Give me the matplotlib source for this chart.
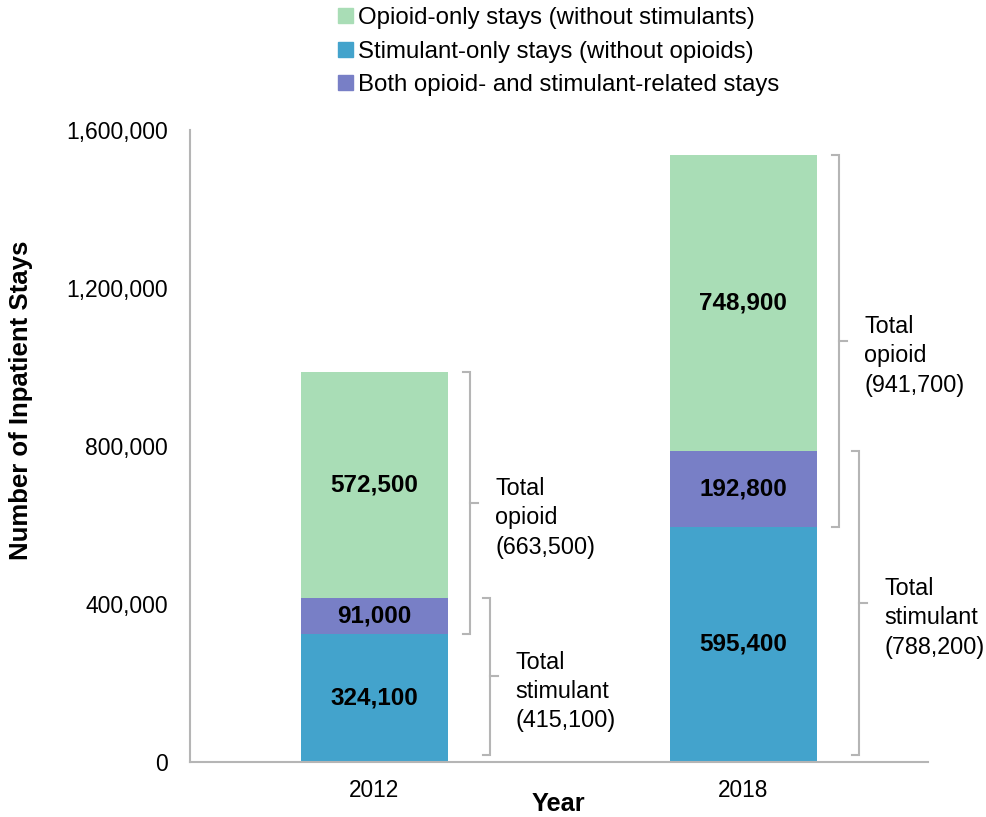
import matplotlib
matplotlib.use("Agg")
import matplotlib.pyplot as plt
from matplotlib.ticker import FuncFormatter
from matplotlib.patches import Patch

plt.rcParams['font.family'] = ['Liberation Sans', 'DejaVu Sans']

years = ["2012", "2018"]
stimulant_only = [324100, 595400]
both = [91000, 192800]
opioid_only = [572500, 748900]
total_opioid = [663500, 941700]
total_stimulant = [415100, 788200]
legend_labels = ["Opioid-only stays (without stimulants)",
                 "Stimulant-only stays (without opioids)",
                 "Both opioid- and stimulant-related stays"]
yticks = [0, 400000, 800000, 1200000, 1600000]

c_green = "#A9DDB6"
c_blue = "#43A3CC"
c_purple = "#787FC6"
c_gray = "#B5B5B5"

fig = plt.figure(figsize=(9.87, 8.17), dpi=100)
ax = fig.add_axes([0.1925, 0.0673, 0.7475, 0.7737])

x = list(range(len(years)))
w = 0.4
bottoms2 = [s for s in stimulant_only]
bottoms3 = [s + b for s, b in zip(stimulant_only, both)]
ax.bar(x, stimulant_only, width=w, color=c_blue, label=legend_labels[1])
ax.bar(x, both, width=w, bottom=bottoms2, color=c_purple, label=legend_labels[2])
ax.bar(x, opioid_only, width=w, bottom=bottoms3, color=c_green, label=legend_labels[0])

lab_kw = dict(ha="center", va="center", fontsize=17.5, fontweight="bold", color="black")
for i in x:
    ax.text(i, stimulant_only[i] / 2, f"{stimulant_only[i]:,}", **lab_kw)
    ax.text(i, bottoms2[i] + both[i] / 2, f"{both[i]:,}", **lab_kw)
    ax.text(i, bottoms3[i] + opioid_only[i] / 2, f"{opioid_only[i]:,}", **lab_kw)

def bracket(xv, y0, y1, label):
    t = 0.02
    ax.plot([xv - t, xv, xv, xv - t], [y1, y1, y0, y0], color=c_gray, lw=1.5,
            clip_on=False, solid_joinstyle="miter")
    ym = (y0 + y1) / 2
    ax.plot([xv, xv + t], [ym, ym], color=c_gray, lw=1.5, clip_on=False)
    ax.text(xv + 0.068, ym - 38000, label, ha="left", va="center", fontsize=16.8,
            linespacing=1.35, color="black")

for i in x:
    top = bottoms3[i] + opioid_only[i]
    bracket(i + w / 2 + 0.06, stimulant_only[i], top,
            f"Total\nopioid\n({total_opioid[i]:,})")
    bracket(i + w / 2 + 0.114, 18000, total_stimulant[i],
            f"Total\nstimulant\n({total_stimulant[i]:,})")

ax.set_xlim(-0.5, 1.5)
ax.set_ylim(0, 1600000)
ax.set_xticks(x)
ax.set_xticklabels(years, fontsize=16.3)
ax.set_yticks(yticks)
ax.yaxis.set_major_formatter(FuncFormatter(lambda v, p: f"{int(v):,}"))
ax.tick_params(axis="y", labelsize=16.5, length=0, pad=16)
ax.tick_params(axis="x", length=0, pad=12)
for s in ["top", "right"]:
    ax.spines[s].set_visible(False)
for s in ["left", "bottom"]:
    ax.spines[s].set_color(c_gray)
    ax.spines[s].set_linewidth(1.5)

ax.set_xlabel("Year", fontsize=18.3, fontweight="bold", labelpad=-7)
ax.set_ylabel("Number of Inpatient Stays", fontsize=18.5, fontweight="bold")
ax.yaxis.set_label_coords(-0.213, 0.573)

handles = [Patch(color=c_green), Patch(color=c_blue), Patch(color=c_purple)]
fig.legend(handles, legend_labels, loc="upper left", bbox_to_anchor=(0.338, 0.997),
           frameon=False, fontsize=17.3, handlelength=0.6, handleheight=0.6,
           handletextpad=0.2, labelspacing=0.48, borderaxespad=0, borderpad=0.2)

fig.savefig("out.png", dpi=100)
